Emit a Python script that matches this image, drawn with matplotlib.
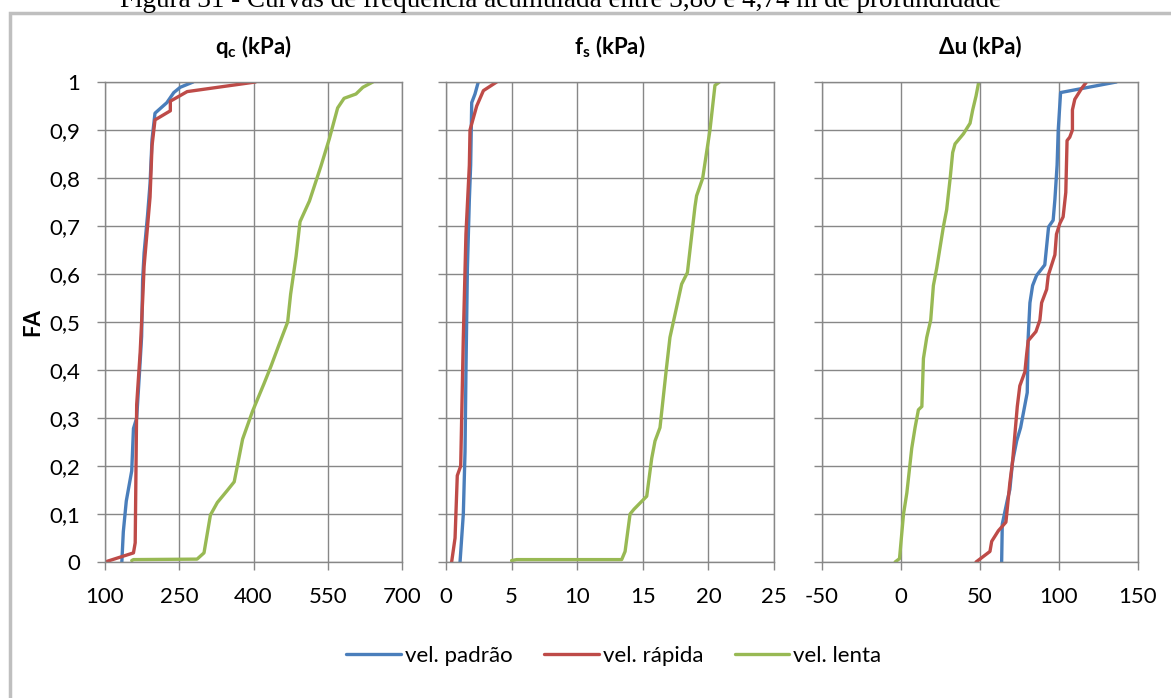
import matplotlib
matplotlib.use("Agg")
import matplotlib.pyplot as plt
from matplotlib.patches import Rectangle

plt.rcParams['font.family'] = ['Lato', 'DejaVu Sans']
plt.rcParams['mathtext.fontset'] = 'custom'
plt.rcParams['mathtext.rm'] = 'Lato'
plt.rcParams['mathtext.bf'] = 'Lato:bold'
plt.rcParams['axes.unicode_minus'] = False

# ---- data ----
series_names = ["vel. padrão", "vel. rápida", "vel. lenta"]
colors = ["#4A7EBB", "#BE4B48", "#98B954"]

# q_c (kPa)
qc_padrao_x = [134, 137, 143, 154, 157.5, 164, 170, 174, 176, 179, 186, 191, 195, 201, 225, 239, 252, 278]
qc_padrao_y = [0, 0.063, 0.127, 0.19, 0.278, 0.3, 0.4, 0.47, 0.587, 0.644, 0.723, 0.788, 0.88, 0.935, 0.957, 0.978, 0.989, 1.0]
qc_rapida_x = [100, 157.5, 161, 164, 171, 176, 179, 191, 195, 201, 232, 232, 266, 404]
qc_rapida_y = [0, 0.019, 0.04, 0.328, 0.436, 0.544, 0.616, 0.76, 0.867, 0.921, 0.94, 0.96, 0.98, 1.0]
qc_lenta_x = [154, 157.5, 286, 300, 313, 327, 347, 361, 378, 398, 421, 435, 452, 469, 475, 486, 494,
              513, 536, 553, 570, 583, 607, 621, 641]
qc_lenta_y = [0.003, 0.005, 0.006, 0.019, 0.098, 0.124, 0.149, 0.167, 0.256, 0.314, 0.371, 0.407, 0.454,
              0.5, 0.558, 0.637, 0.709, 0.752, 0.824, 0.881, 0.946, 0.966, 0.975, 0.989, 1.0]

# f_s (kPa)
fs_padrao_x = [1.07, 1.32, 1.45, 1.52, 1.63, 1.78, 1.88, 1.96, 2.21, 2.46]
fs_padrao_y = [0, 0.1, 0.23, 0.396, 0.61, 0.755, 0.827, 0.957, 0.975, 1.0]
fs_rapida_x = [0.43, 0.69, 0.86, 1.12, 1.32, 1.52, 1.78, 1.83, 2.34, 2.85, 3.86]
fs_rapida_y = [0, 0.05, 0.18, 0.2, 0.468, 0.683, 0.827, 0.9, 0.95, 0.982, 1.0]
fs_lenta_x = [5.0, 5.39, 13.39, 13.65, 14.03, 14.33, 15.3, 15.68, 15.93, 16.31, 16.77, 17.07, 17.53,
              17.96, 18.4, 18.98, 19.1, 19.56, 20.12, 20.5, 20.84]
fs_lenta_y = [0.003, 0.005, 0.005, 0.022, 0.1, 0.11, 0.137, 0.216, 0.252, 0.28, 0.396, 0.468, 0.525,
              0.579, 0.603, 0.741, 0.763, 0.799, 0.9, 0.993, 1.0]

# delta u (kPa)
du_padrao_x = [63.7, 64.1, 67.3, 68.9, 70.6, 73.2, 75.7, 79.9, 80.5, 81.6, 83.3, 85.8, 91.0, 93.4,
               96.3, 97.4, 98.8, 99.5, 101.0, 136.3]
du_padrao_y = [0, 0.079, 0.129, 0.151, 0.209, 0.252, 0.28, 0.353, 0.468, 0.54, 0.576, 0.597, 0.619,
               0.698, 0.712, 0.755, 0.827, 0.899, 0.978, 1.0]
du_rapida_x = [47.5, 56.3, 57.4, 61.6, 66.4, 68.9, 70.6, 73.6, 75.2, 78.4, 79.5, 80.5, 85.4, 87.9,
               89.0, 92.2, 93.2, 97.4, 98.4, 100.5, 102.6, 104.3, 105.1, 106.8, 108.5, 108.5, 110.0,
               114.2, 117.4]
du_rapida_y = [0, 0.022, 0.043, 0.065, 0.083, 0.165, 0.209, 0.324, 0.367, 0.396, 0.432, 0.461, 0.48,
               0.504, 0.54, 0.568, 0.597, 0.64, 0.683, 0.705, 0.719, 0.77, 0.878, 0.885, 0.9, 0.942,
               0.964, 0.986, 1.0]
du_lenta_x = [-3.7, -0.95, 1.6, 3.7, 6.8, 8.9, 11.0, 13.2, 14.2, 16.3, 18.8, 20.5, 22.6, 26.8, 28.9,
              31.1, 32.7, 34.2, 39.5, 43.7, 45.4, 47.5, 49.2]
du_lenta_y = [0, 0.007, 0.1, 0.144, 0.237, 0.28, 0.317, 0.324, 0.424, 0.468, 0.504, 0.576, 0.612,
              0.698, 0.734, 0.799, 0.853, 0.871, 0.892, 0.914, 0.942, 0.971, 1.0]

panel_titles = [r"$\mathbf{q}_\mathbf{c}$ (kPa)", r"$\mathbf{f}_\mathbf{s}$ (kPa)", "Δu (kPa)"]
panel_xlims = [(100, 700), (0, 25), (-50, 150)]
panel_xticks = [[100, 250, 400, 550, 700], [0, 5, 10, 15, 20, 25], [-50, 0, 50, 100, 150]]
y_ticks = [0, 0.1, 0.2, 0.3, 0.4, 0.5, 0.6, 0.7, 0.8, 0.9, 1.0]
y_ticklabels = ["0", "0,1", "0,2", "0,3", "0,4", "0,5", "0,6", "0,7", "0,8", "0,9", "1"]

panel_data = [
    [(qc_padrao_x, qc_padrao_y), (qc_rapida_x, qc_rapida_y), (qc_lenta_x, qc_lenta_y)],
    [(fs_padrao_x, fs_padrao_y), (fs_rapida_x, fs_rapida_y), (fs_lenta_x, fs_lenta_y)],
    [(du_padrao_x, du_padrao_y), (du_rapida_x, du_rapida_y), (du_lenta_x, du_lenta_y)],
]

# ---- layout (pixels) ----
W, H = 1171, 698
panel_px = [(105, 297), (446, 328), (822, 316)]
top_px, bottom_px = 82, 562
grid_col = "#878787"

fig = plt.figure(figsize=(W / 100, H / 100), dpi=100)

# outer chart frame
fig.patches.append(Rectangle((10 / W, -0.1), 1.2, 1.1 - 13 / H, transform=fig.transFigure,
                             facecolor="none", edgecolor="#BFBFBF", lw=2.5))

fig.text(120 / W, 1 - 7 / H,
         "Figura 31 - Curvas de frequência acumulada entre 3,80 e 4,74 m de profundidade",
         family="Liberation Serif", fontsize=19.5, va="baseline", ha="left")

axes = []
for i, (left, width) in enumerate(panel_px):
    ax = fig.add_axes([left / W, 1 - bottom_px / H, width / W, (bottom_px - top_px) / H])
    for (xs, ys), c, name in zip(panel_data[i], colors, series_names):
        ax.plot(xs, ys, color=c, lw=2.4, label=name, solid_capstyle="round", solid_joinstyle="round")
    ax.set_xlim(*panel_xlims[i])
    ax.set_ylim(0, 1)
    ax.set_xticks(panel_xticks[i])
    ax.set_yticks(y_ticks)
    ax.grid(True, color=grid_col, lw=1.0)
    ax.set_axisbelow(True)
    for s in ax.spines.values():
        s.set_color(grid_col)
        s.set_linewidth(1.0)
    ax.tick_params(axis="both", color=grid_col, length=6, width=1.0, labelsize=16)
    ax.tick_params(axis="x", pad=12)
    ax.tick_params(axis="y", pad=12)
    if i == 0:
        ax.set_yticklabels(y_ticklabels)
    else:
        ax.set_yticklabels([])
    fig.text((left + width / 2) / W, 1 - 47 / H, panel_titles[i], fontsize=16,
             fontweight="bold", ha="center", va="center")
    axes.append(ax)

fig.text(33 / W, 1 - 322 / H, "FA", fontsize=16, fontweight="bold", rotation=90,
         ha="center", va="center")

handles, labels = axes[0].get_legend_handles_labels()
fig.legend(handles, labels, loc="center", bbox_to_anchor=(614 / W, 1 - 656 / H), ncol=3,
           frameon=False, fontsize=16, handlelength=2.45, handletextpad=0.2, columnspacing=1.4)

fig.savefig("out.png", dpi=100)
